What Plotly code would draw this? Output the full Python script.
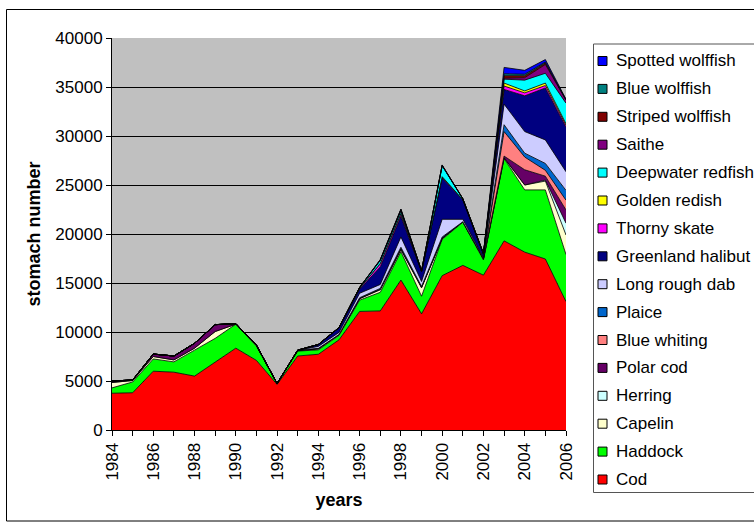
import plotly.graph_objects as go

years = list(range(1984, 2007))

# stomach numbers per prey species, 1984-2006
cod = [3750, 3800, 6000, 5900, 5500, 6950, 8350, 7100, 4650, 7550, 7730, 9200,
       12100, 12150, 15300, 11850, 15750, 16800, 15800, 19300, 18150, 17450, 13100]
haddock = [550, 1100, 1250, 1050, 2650, 2400, 2450, 1450, 100, 500, 450, 450,
           1150, 1900, 2900, 1800, 3700, 4400, 1550, 8400, 6350, 7050, 4800]
capelin = [550, 150, 250, 200, 200, 700, 0, 100, 0, 50, 100, 100,
           150, 250, 200, 850, 100, 50, 100, 50, 500, 900, 2000]
herring = [0, 0, 0, 0, 0, 0, 0, 0, 0, 0, 0, 0,
           0, 50, 50, 50, 0, 0, 50, 50, 0, 100, 1200]
polar_cod = [150, 50, 250, 400, 500, 700, 50, 0, 0, 50, 50, 0,
             50, 50, 50, 50, 50, 0, 0, 150, 1550, 400, 1350]
blue_whiting = [0, 0, 0, 0, 0, 0, 0, 0, 0, 0, 0, 0,
                0, 0, 50, 0, 0, 0, 0, 2500, 1300, 600, 1000]
plaice = [0, 0, 0, 0, 0, 0, 0, 0, 0, 0, 0, 0,
          50, 50, 100, 50, 100, 0, 0, 700, 400, 700, 1000]
long_rough_dab = [0, 0, 0, 0, 0, 0, 0, 0, 0, 0, 200, 200,
                  450, 400, 1050, 500, 1800, 250, 100, 2100, 2200, 2400, 1900]
greenland_halibut = [0, 0, 0, 0, 0, 0, 0, 0, 0, 0, 200, 500,
                     400, 1800, 2100, 1000, 4200, 2000, 350, 1500, 3650, 5300, 4550]
thorny_skate = [0, 0, 0, 0, 0, 0, 0, 0, 0, 0, 0, 0,
                100, 300, 250, 50, 100, 0, 0, 350, 300, 250, 200]
golden_redish = [0, 0, 0, 0, 0, 0, 0, 0, 0, 0, 0, 0,
                 0, 50, 50, 0, 50, 0, 0, 300, 200, 250, 150]
deepwater_redfish = [0, 0, 0, 0, 0, 0, 0, 0, 0, 0, 0, 0,
                     100, 300, 250, 50, 1100, 100, 50, 400, 1100, 1000, 2100]
saithe = [0, 0, 0, 0, 0, 0, 0, 0, 0, 0, 0, 0,
          0, 50, 100, 0, 50, 0, 0, 100, 250, 900, 300]
striped_wolffish = [0, 0, 0, 0, 0, 0, 0, 0, 0, 0, 0, 0,
                    0, 0, 50, 0, 0, 0, 0, 250, 200, 150, 50]
blue_wolffish = [0, 0, 0, 0, 0, 0, 0, 0, 0, 0, 0, 0,
                 0, 0, 0, 0, 0, 0, 0, 200, 150, 100, 0]
spotted_wolffish = [0, 0, 0, 0, 0, 0, 0, 0, 0, 0, 0, 0,
                    0, 50, 50, 0, 50, 0, 50, 650, 400, 250, 50]

# bottom to top, excel default palette
series = [
    ('Cod', cod, '#FF0000'),
    ('Haddock', haddock, '#00FF00'),
    ('Capelin', capelin, '#FFFFCC'),
    ('Herring', herring, '#CCFFFF'),
    ('Polar cod', polar_cod, '#660066'),
    ('Blue whiting', blue_whiting, '#FF8080'),
    ('Plaice', plaice, '#0066CC'),
    ('Long rough dab', long_rough_dab, '#CCCCFF'),
    ('Greenland halibut', greenland_halibut, '#000080'),
    ('Thorny skate', thorny_skate, '#FF00FF'),
    ('Golden redish', golden_redish, '#FFFF00'),
    ('Deepwater redfish', deepwater_redfish, '#00FFFF'),
    ('Saithe', saithe, '#800080'),
    ('Striped wolffish', striped_wolffish, '#800000'),
    ('Blue wolffish', blue_wolffish, '#008080'),
    ('Spotted wolffish', spotted_wolffish, '#0000FF'),
]

font = 'Arial, Liberation Sans, sans-serif'

# plot area in pixels: x 112..566, y 38..430
L, T, W, H = 112, 38, 454, 392
def px(x):
    return (x - L) / W
def py(y):
    return (T + H - y) / H

fig = go.Figure()
for name, vals, col in series:
    fig.add_trace(go.Scatter(
        x=years, y=vals, name=name,
        mode='lines', stackgroup='one',
        line=dict(color='black', width=0.8),
        fillcolor=col, showlegend=False,
    ))

# outer chart border + legend box (excel style legend, top entry = top layer)
shapes = [
    dict(type='rect', xref='paper', yref='paper', layer='above',
         x0=px(6.5), x1=px(800), y0=py(521), y1=py(9.5),
         line=dict(color='black', width=1)),
    dict(type='rect', xref='paper', yref='paper', layer='above',
         x0=px(593.5), x1=px(800), y0=py(492.5), y1=py(44),
         fillcolor='white', line=dict(color='#555555', width=1)),
]
annotations = []
for i, (name, vals, col) in enumerate(reversed(series)):
    yc = 61 + i * 27.9
    shapes.append(dict(type='rect', xref='paper', yref='paper', layer='above',
                       x0=px(598), x1=px(607), y0=py(yc + 4.5), y1=py(yc - 4.5),
                       fillcolor=col, line=dict(color='black', width=1)))
    annotations.append(dict(xref='paper', yref='paper', x=px(614), y=py(yc),
                            xanchor='left', yanchor='middle', showarrow=False,
                            text=name, font=dict(family=font, size=17, color='black')))

fig.update_layout(
    width=754, height=524,
    margin=dict(l=L, r=754 - L - W, t=T, b=524 - T - H, autoexpand=False),
    paper_bgcolor='white',
    plot_bgcolor='#C0C0C0',
    font=dict(family=font, size=17, color='black'),
    showlegend=False,
    shapes=shapes,
    annotations=annotations,
)

fig.update_xaxes(
    range=[1984, 2006], tickmode='linear', tick0=1984, dtick=2,
    tickangle=-90, ticks='outside', ticklen=5, tickcolor='black',
    showgrid=False, showline=True, linecolor='black', zeroline=False,
    minor=dict(dtick=1, ticks='outside', ticklen=5, tickcolor='black', showgrid=False),
    title=dict(text='<b>years</b>', font=dict(size=18), standoff=13),
)
fig.update_yaxes(
    range=[0, 40000], dtick=5000, tickformat='d',
    ticks='outside', ticklen=5, tickcolor='black',
    showgrid=True, gridcolor='black', gridwidth=1,
    showline=True, linecolor='black', zeroline=False,
    title=dict(text='<b>stomach number</b>', font=dict(size=18), standoff=10),
)

# page body has an 8px default margin; drop it so the chart sits at the window corner
fig.write_html("out.html", config={'displayModeBar': False},
               post_script="document.body.style.margin='0';")
